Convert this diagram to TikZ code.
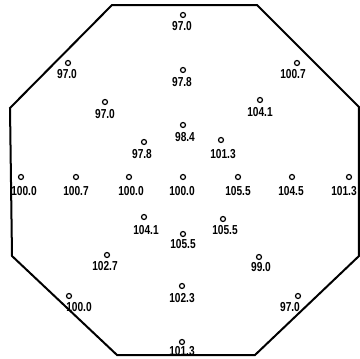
\documentclass[tikz,border=0pt]{standalone}
\usepackage{fontspec}
\setmainfont{Liberation Sans}[FakeStretch=0.78]
\begin{document}
\begin{tikzpicture}[x=1pt,y=-1pt,
  pt/.style={circle,draw,line width=1.2pt,minimum size=5pt,inner sep=0pt},
  val/.style={font=\fontsize{13}{13}\selectfont\bfseries,inner sep=0pt},
  edge/.style={line width=2pt,line join=miter}]
\useasboundingbox (0,0) rectangle (360,359);
\draw[edge] (112,5) -- (257,5) -- (359,107) -- (359,256) -- (255,355) -- (117,355) -- (12,256) -- (10,108) -- cycle;
% points
\foreach \n/\x/\y/\lx/\ly/\t in {
 a/183/15/182/26/97.0,
 b/68/63/67/74/97.0,
 c/297/63/293/74/100.7,
 d/183/70/182/82/97.8,
 e/105/102/105/114/97.0,
 f/260/100/260/112/104.1,
 g/183/125/185/137/98.4,
 h/144/142/142/154/97.8,
 i/221/140/223/154/101.3,
 j/21/177/24/191/100.0,
 k/76/177/76/191/100.7,
 l/129/177/131/191/100.0,
 m/183/177/182/191/100.0,
 n/238/177/238/191/105.5,
 o/292/177/291/191/104.5,
 p/349/177/344/191/101.3,
 q/144/217/146/230/104.1,
 r/223/219/225/230/105.5,
 s/183/234/183/244/105.5,
 t/107/255/105/266/102.7,
 u/259/257/261/267/99.0,
 v/69/296/79/307/100.0,
 w/182/286/182/298/102.3,
 x/298/296/290/307/97.0,
 y/182/342/182/351/101.3}{
  \node[pt] (\n) at (\x,\y) {};
  \node[val] (\n l) at (\lx,\ly) {\t};
}
\end{tikzpicture}
\end{document}
